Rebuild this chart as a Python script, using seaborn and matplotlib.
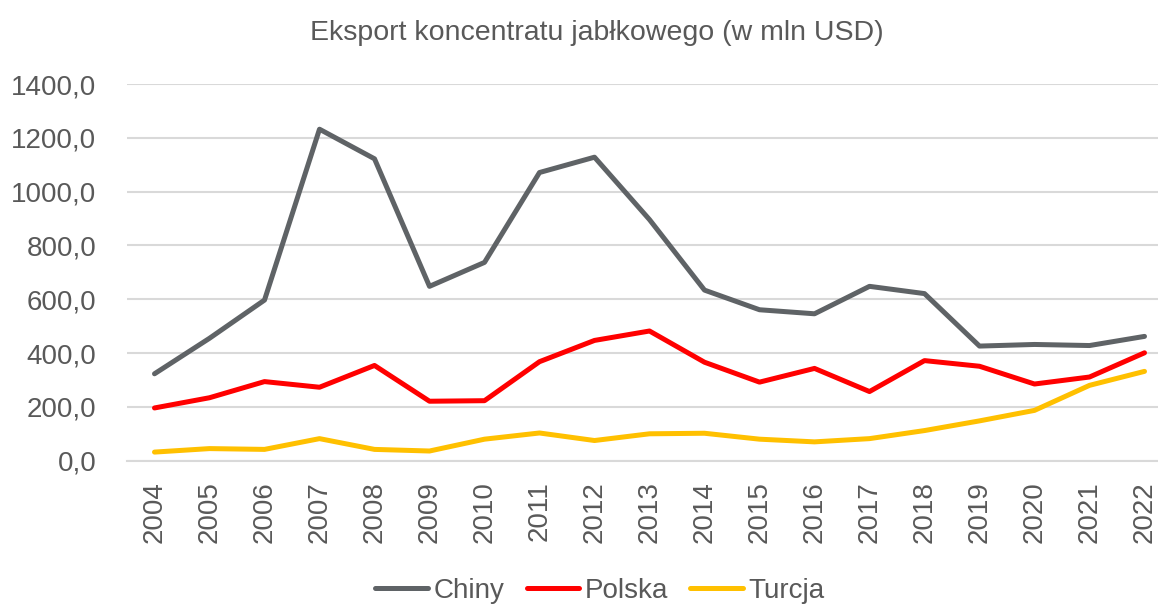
import matplotlib
matplotlib.use("Agg")
import matplotlib.pyplot as plt
import seaborn as sns
import pandas as pd
from matplotlib.ticker import FuncFormatter, MultipleLocator
from matplotlib.lines import Line2D

years = [str(y) for y in range(2004, 2023)]
chiny = [323, 455, 597, 1232, 1122, 648, 737, 1071, 1128, 896, 634, 561, 546, 648, 621, 426, 432, 428, 462]
polska = [196, 234, 294, 273, 354, 221, 223, 368, 447, 482, 366, 292, 343, 257, 372, 351, 285, 311, 401]
turcja = [32, 45, 42, 82, 42, 36, 80, 103, 75, 100, 102, 80, 70, 82, 112, 148, 187, 280, 332]
series_names = ["Chiny", "Polska", "Turcja"]
colors = ["#5f6366", "#ff0000", "#ffc000"]

df = pd.DataFrame({
    "rok": years * 3,
    "idx": list(range(len(years))) * 3,
    "wartosc": chiny + polska + turcja,
    "kraj": ["Chiny"] * len(years) + ["Polska"] * len(years) + ["Turcja"] * len(years),
})

sns.set_style("white")
plt.rcParams["font.family"] = ["Liberation Sans", "DejaVu Sans"]

fig = plt.figure(figsize=(11.58, 6.04), dpi=100)
ax = fig.add_axes([127 / 1158, 1 - 460.7 / 604, 1045 / 1158, (460.7 - 84) / 604])

sns.lineplot(data=df, x="idx", y="wartosc", hue="kraj", hue_order=series_names,
             palette=colors, linewidth=3.6, ax=ax, legend=False, sort=False)

ax.set_xlim(-0.5, len(years) - 0.5)
ax.set_ylim(0, 1400)
ax.yaxis.set_major_locator(MultipleLocator(200))
ax.yaxis.set_major_formatter(FuncFormatter(lambda v, p: f"{v:.1f}".replace(".", ",")))
ax.set_xticks(range(len(years)))
ax.set_xticklabels(years, rotation=90)
ax.tick_params(axis="both", labelsize=20, labelcolor="#595959", length=0)
ax.tick_params(axis="y", pad=22)
ax.tick_params(axis="x", pad=15)
ax.grid(axis="y", color="#d9d9d9", linewidth=1.5)
ax.set_axisbelow(True)
for s in ["top", "right", "left"]:
    ax.spines[s].set_visible(False)
ax.spines["bottom"].set_color("#d9d9d9")
ax.spines["bottom"].set_linewidth(1.5)
ax.set_xlabel("")
ax.set_ylabel("")

fig.text(597 / 1158, 1 - 33 / 604, "Eksport koncentratu jabłkowego (w mln USD)",
         ha="center", va="center", fontsize=20.5, color="#595959")

handles = [Line2D([0], [0], color=c, linewidth=3.6) for c in colors]
fig.legend(handles, series_names, loc="center", bbox_to_anchor=(600 / 1158, 1 - 591 / 604),
           ncol=3, frameon=False, fontsize=20, labelcolor="#595959",
           handlelength=1.9, handletextpad=0.2, columnspacing=0.8)

fig.savefig("out.png", dpi=100)
